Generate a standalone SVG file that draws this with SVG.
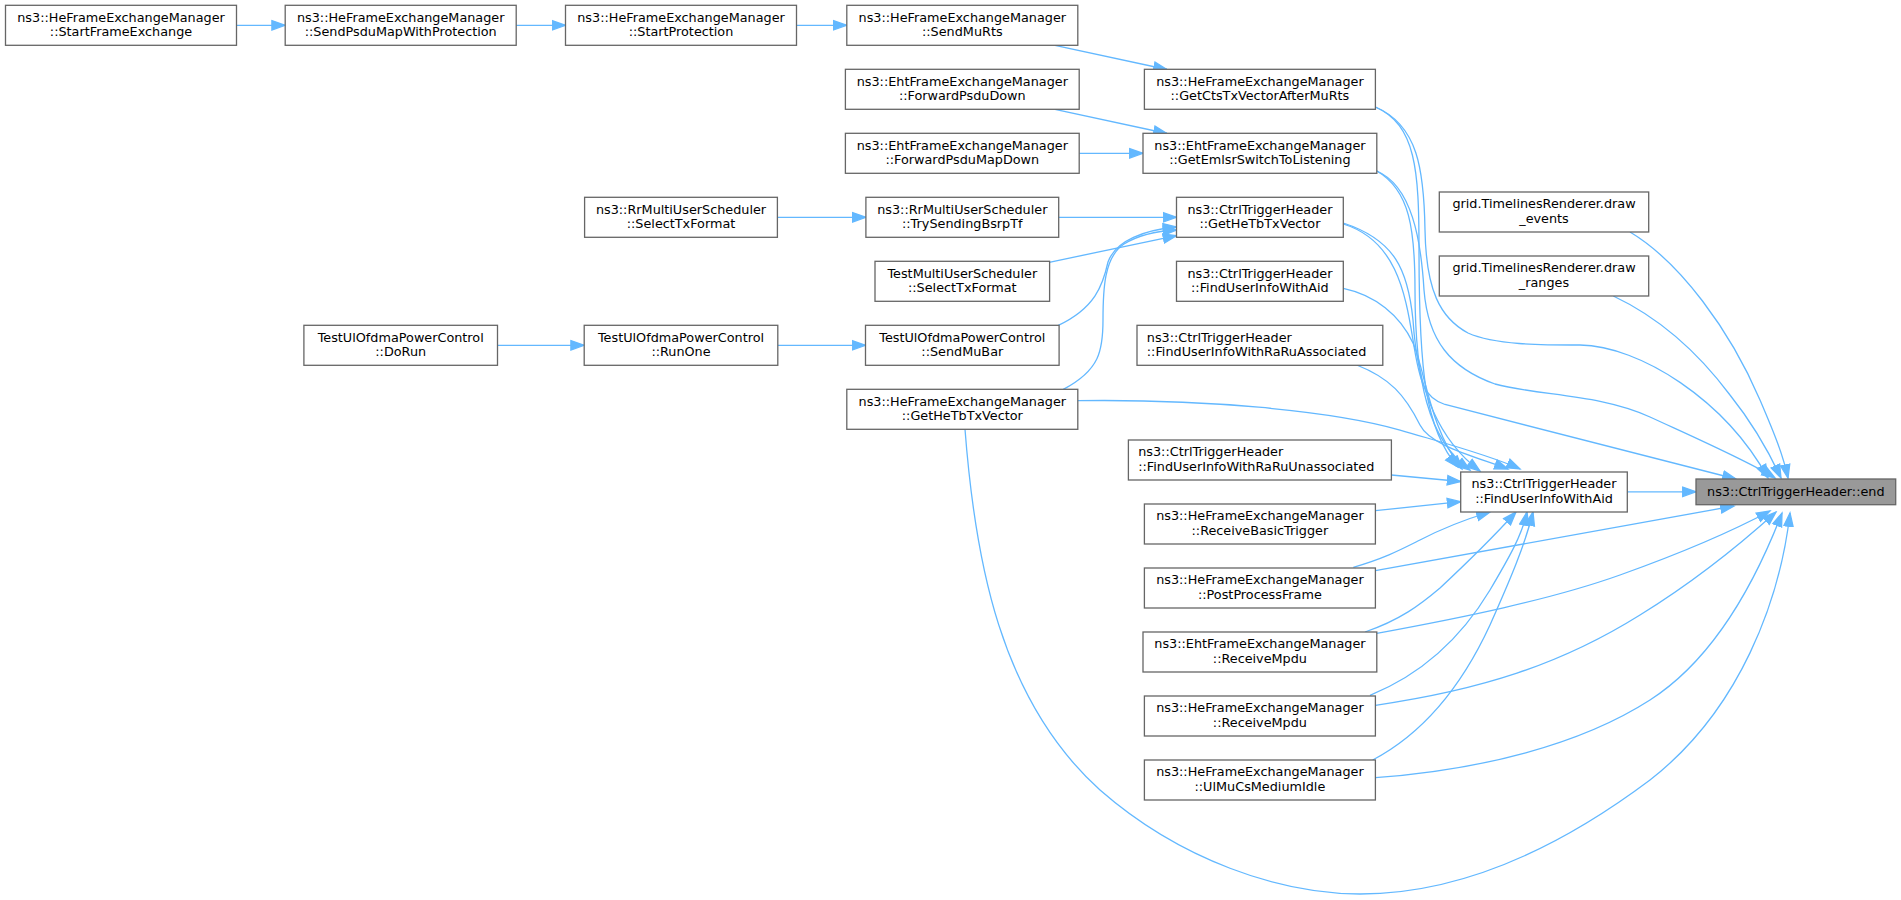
<svg xmlns="http://www.w3.org/2000/svg" width="1901" height="900" viewBox="0 0 1901 900">
<style>
.n rect{fill:#ffffff;stroke:#666666;stroke-width:1.3}
.n.t rect{fill:#999999}
text{font-family:"DejaVu Sans",sans-serif;font-size:12.8px;fill:#000000;text-anchor:middle}
.n.l text{text-anchor:start}
#edges path{fill:none;stroke:#63b8ff;stroke-width:1.3;marker-end:url(#ah)}
</style>
<defs>
<marker id="ah" markerUnits="userSpaceOnUse" markerWidth="16" markerHeight="12" refX="14" refY="6" orient="auto">
<path d="M0.7,1.3 L14,6 L0.7,10.7 z" fill="#63b8ff" stroke="#63b8ff" stroke-width="1.3"/>
</marker>
</defs>
<rect x="0" y="0" width="1901" height="900" fill="#ffffff"/>
<g id="edges">
<path d="M236.5,25.3 L285.2,25.3"/>
<path d="M516.2,25.3 L565.5,25.3"/>
<path d="M796.5,25.3 L846.8,25.3"/>
<path d="M1055,45.3 L1167,69.5"/>
<path d="M1055,109.3 L1167,133.5"/>
<path d="M1079.2,153.3 L1143,153.3"/>
<path d="M777.4,217.3 L865.9,217.3"/>
<path d="M1058.7,217.3 L1176.5,217.3"/>
<path d="M1049.2,262.3 L1176.5,235.7"/>
<path d="M1058.3,325.3 C1095,308 1103,285 1108,262 C1116,240 1145,230 1176.5,227"/>
<path d="M1063.3,389.3 C1100,370 1103,350 1103,320 C1103,290 1104,257 1124,244 C1140,234 1158,231 1176.5,230"/>
<path d="M497.5,345.3 L584.2,345.3"/>
<path d="M777.8,345.3 L865.5,345.3"/>
<path d="M1375.4,107 C1416,125 1419,170 1419,250 C1419,370 1425,430 1458,467"/>
<path d="M1376.8,171 C1410,190 1415,230 1415,290 C1415,380 1428,440 1470,470"/>
<path d="M1343.3,223 C1395,240 1408,270 1413,320 C1418,400 1445,445 1480,471"/>
<path d="M1343.3,288.3 C1375,295 1400,315 1413,343 C1425,370 1430,430 1462,469"/>
<path d="M1356.7,365 C1390,378 1405,395 1420,425 C1430,445 1470,455 1508,469"/>
<path d="M1078,400.7 C1200,399 1330,410 1400,430 C1440,442 1490,455 1520,469"/>
<path d="M1391.4,475 L1460.7,481.5"/>
<path d="M1375.4,510.7 L1460.7,501.7"/>
<path d="M1353.3,567.3 C1385,558 1400,550 1420,540 C1445,527 1470,518 1490,512"/>
<path d="M1365,632 C1400,620 1420,605 1440,588 C1470,560 1495,535 1516,512"/>
<path d="M1370,695.3 C1420,675 1460,640 1490,590 C1510,556 1522,535 1527,512"/>
<path d="M1372.7,760 C1420,735 1460,690 1490,625 C1510,580 1525,545 1533,512"/>
<path d="M1375.4,107 C1418,125 1424,170 1425,230 C1426,290 1440,318 1468,333 C1495,345 1540,345 1580,345 C1640,346 1725,400 1768,478"/>
<path d="M1376.8,171 C1412,186 1421,240 1424,290 C1428,340 1450,368 1495,384 C1540,396 1600,394 1650,417 C1700,440 1750,462 1775,478"/>
<path d="M1343.3,224 C1395,240 1405,290 1413,340 C1420,385 1425,398 1445,404.5 L1736,479"/>
<path d="M1630,232 C1680,262 1730,330 1760,400 C1775,435 1783,455 1788,478"/>
<path d="M1613.3,296 C1660,318 1700,355 1730,395 C1750,420 1768,450 1781,478"/>
<path d="M1627.3,491.8 L1696,491.8"/>
<path d="M1375.4,570.7 L1734,506"/>
<path d="M1376.8,633.3 C1460,618 1550,600 1620,575 C1690,550 1740,527 1770,511"/>
<path d="M1375.4,705.3 C1480,690 1560,665 1640,615 C1700,578 1745,540 1776,512"/>
<path d="M1375.4,777.7 C1480,770 1580,745 1650,700 C1720,655 1760,570 1782,513"/>
<path d="M965,429.3 C975,560 1000,700 1100,790 C1180,860 1280,894 1360,894 C1470,894 1570,840 1650,780 C1740,710 1780,600 1790,513"/>
</g>
<g id="node1" class="n"><rect x="5.5" y="5.3" width="231" height="40"/><text x="121" y="21.7">ns3::HeFrameExchangeManager</text><text x="121" y="36.1">::StartFrameExchange</text></g>
<g id="node2" class="n"><rect x="285.2" y="5.3" width="231" height="40"/><text x="400.7" y="21.7">ns3::HeFrameExchangeManager</text><text x="400.7" y="36.1">::SendPsduMapWithProtection</text></g>
<g id="node3" class="n"><rect x="565.5" y="5.3" width="231" height="40"/><text x="681" y="21.7">ns3::HeFrameExchangeManager</text><text x="681" y="36.1">::StartProtection</text></g>
<g id="node4" class="n"><rect x="846.8" y="5.3" width="231" height="40"/><text x="962.3" y="21.7">ns3::HeFrameExchangeManager</text><text x="962.3" y="36.1">::SendMuRts</text></g>
<g id="node5" class="n"><rect x="1144.4" y="69.3" width="231" height="40"/><text x="1259.9" y="85.7">ns3::HeFrameExchangeManager</text><text x="1259.9" y="100.1">::GetCtsTxVectorAfterMuRts</text></g>
<g id="node6" class="n"><rect x="845.4" y="69.3" width="233.8" height="40"/><text x="962.3" y="85.7">ns3::EhtFrameExchangeManager</text><text x="962.3" y="100.1">::ForwardPsduDown</text></g>
<g id="node7" class="n"><rect x="845.4" y="133.3" width="233.8" height="40"/><text x="962.3" y="149.7">ns3::EhtFrameExchangeManager</text><text x="962.3" y="164.1">::ForwardPsduMapDown</text></g>
<g id="node8" class="n"><rect x="1143" y="133.3" width="233.8" height="40"/><text x="1259.9" y="149.7">ns3::EhtFrameExchangeManager</text><text x="1259.9" y="164.1">::GetEmlsrSwitchToListening</text></g>
<g id="node9" class="n"><rect x="584.6" y="197.3" width="192.8" height="40"/><text x="681" y="213.7">ns3::RrMultiUserScheduler</text><text x="681" y="228.1">::SelectTxFormat</text></g>
<g id="node10" class="n"><rect x="865.9" y="197.3" width="192.8" height="40"/><text x="962.3" y="213.7">ns3::RrMultiUserScheduler</text><text x="962.3" y="228.1">::TrySendingBsrpTf</text></g>
<g id="node11" class="n"><rect x="875" y="261.3" width="174.6" height="40"/><text x="962.3" y="277.7">TestMultiUserScheduler</text><text x="962.3" y="292.1">::SelectTxFormat</text></g>
<g id="node12" class="n"><rect x="303.9" y="325.3" width="193.6" height="40"/><text x="400.7" y="341.7">TestUlOfdmaPowerControl</text><text x="400.7" y="356.1">::DoRun</text></g>
<g id="node13" class="n"><rect x="584.2" y="325.3" width="193.6" height="40"/><text x="681" y="341.7">TestUlOfdmaPowerControl</text><text x="681" y="356.1">::RunOne</text></g>
<g id="node14" class="n"><rect x="865.5" y="325.3" width="193.6" height="40"/><text x="962.3" y="341.7">TestUlOfdmaPowerControl</text><text x="962.3" y="356.1">::SendMuBar</text></g>
<g id="node15" class="n"><rect x="846.8" y="389.3" width="231" height="40"/><text x="962.3" y="405.7">ns3::HeFrameExchangeManager</text><text x="962.3" y="420.1">::GetHeTbTxVector</text></g>
<g id="node16" class="n"><rect x="1176.5" y="197.3" width="166.8" height="40"/><text x="1259.9" y="213.7">ns3::CtrlTriggerHeader</text><text x="1259.9" y="228.1">::GetHeTbTxVector</text></g>
<g id="node17" class="n"><rect x="1176.5" y="261.3" width="166.8" height="40"/><text x="1259.9" y="277.7">ns3::CtrlTriggerHeader</text><text x="1259.9" y="292.1">::FindUserInfoWithAid</text></g>
<g id="node18" class="n l"><rect x="1137" y="325.3" width="245.8" height="40"/><text x="1146.8" y="341.7">ns3::CtrlTriggerHeader</text><text x="1146.8" y="356.1">::FindUserInfoWithRaRuAssociated</text></g>
<g id="node19" class="n l"><rect x="1128.4" y="440" width="263" height="40"/><text x="1138.2" y="456.4">ns3::CtrlTriggerHeader</text><text x="1138.2" y="470.8">::FindUserInfoWithRaRuUnassociated</text></g>
<g id="node20" class="n"><rect x="1144.4" y="504" width="231" height="40"/><text x="1259.9" y="520.4">ns3::HeFrameExchangeManager</text><text x="1259.9" y="534.8">::ReceiveBasicTrigger</text></g>
<g id="node21" class="n"><rect x="1144.4" y="568" width="231" height="40"/><text x="1259.9" y="584.4">ns3::HeFrameExchangeManager</text><text x="1259.9" y="598.8">::PostProcessFrame</text></g>
<g id="node22" class="n"><rect x="1143" y="632" width="233.8" height="40"/><text x="1259.9" y="648.4">ns3::EhtFrameExchangeManager</text><text x="1259.9" y="662.8">::ReceiveMpdu</text></g>
<g id="node23" class="n"><rect x="1144.4" y="696" width="231" height="40"/><text x="1259.9" y="712.4">ns3::HeFrameExchangeManager</text><text x="1259.9" y="726.8">::ReceiveMpdu</text></g>
<g id="node24" class="n"><rect x="1144.4" y="760" width="231" height="40"/><text x="1259.9" y="776.4">ns3::HeFrameExchangeManager</text><text x="1259.9" y="790.8">::UlMuCsMediumIdle</text></g>
<g id="node25" class="n"><rect x="1439.3" y="192" width="209.4" height="40"/><text x="1544" y="208.4">grid.TimelinesRenderer.draw</text><text x="1544" y="222.8">_events</text></g>
<g id="node26" class="n"><rect x="1439.3" y="256" width="209.4" height="40"/><text x="1544" y="272.4">grid.TimelinesRenderer.draw</text><text x="1544" y="286.8">_ranges</text></g>
<g id="node27" class="n"><rect x="1460.7" y="472" width="166.6" height="40"/><text x="1544" y="488.4">ns3::CtrlTriggerHeader</text><text x="1544" y="502.8">::FindUserInfoWithAid</text></g>
<g id="node28" class="n t"><rect x="1696" y="479" width="199.7" height="25.7"/><text x="1795.8" y="495.6">ns3::CtrlTriggerHeader::end</text></g>
</svg>
